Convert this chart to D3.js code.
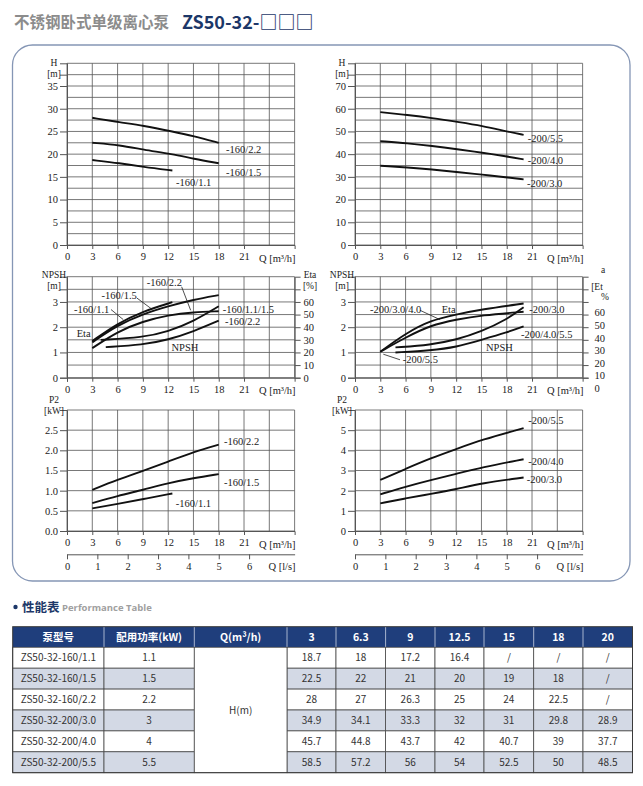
<!DOCTYPE html>
<html>
<head>
<meta charset="utf-8">
<script src="https://cdn.jsdelivr.net/npm/d3@7"></script>
<style>
  body { margin: 0; background: #fff; }
  svg { display: block; }
  .lab { font-family: "Liberation Serif", "DejaVu Serif", serif; font-size: 10.5px; fill: #222; }
  .cell { font-family: "Noto Sans CJK SC", sans-serif; font-size: 10px; fill: #333; }
</style>
</head>
<body>
<svg id="chart" width="643" height="786"></svg>
<script>
'use strict';

// ---- table data (also drives the H curves) ----
const qTable = [3, 6.3, 9, 12.5, 15, 18, 20];
const tableHead = ["泵型号", "配用功率(kW)", "Q(m³/h)"];
const models = ["ZS50-32-160/1.1", "ZS50-32-160/1.5", "ZS50-32-160/2.2",
                "ZS50-32-200/3.0", "ZS50-32-200/4.0", "ZS50-32-200/5.5"];
const motorKw = ["1.1", "1.5", "2.2", "3", "4", "5.5"];
const headRows = [
  [18.7, 18, 17.2, 16.4, null, null, null],
  [22.5, 22, 21, 20, 19, 18, null],
  [28, 27, 26.3, 25, 24, 22.5, null],
  [34.9, 34.1, 33.3, 32, 31, 29.8, 28.9],
  [45.7, 44.8, 43.7, 42, 40.7, 39, 37.7],
  [58.5, 57.2, 56, 54, 52.5, 50, 48.5]
];
const curveNames = ["-160/1.1", "-160/1.5", "-160/2.2", "-200/3.0", "-200/4.0", "-200/5.5"];

// ---- Eta / NPSH curves ----
const etaQ160 = [[3, 6, 9, 12.5], [3, 6, 9, 12, 15, 18], [3, 6, 9, 12, 15, 18]];
const eta160 = [[29, 43, 52.6, 59.8], [28, 41.6, 50.4, 56.6, 61.8, 65.4], [23.4, 36.6, 44.6, 49.6, 52, 52.6]];
const npshQ160 = [[4, 9, 12, 15, 18], [4.6, 9, 12, 15, 18]];
const npsh160 = [[1.5, 1.59, 1.83, 2.23, 2.83], [1.21, 1.3, 1.5, 1.83, 2.26]];

const etaQ200 = [3, 6, 9, 12, 15, 20];
const eta200 = [[29, 43.6, 54.1, 58.6, 62.6, 67.3], [29, 40.4, 50.1, 54.6, 58, 60.7]];
const npshQ200 = [4.8, 9, 12, 15, 18, 20];
const npsh200 = [[1.2, 1.3, 1.5, 1.83, 2.3, 2.79], [1.0, 1.08, 1.21, 1.5, 1.79, 2.03]];

// ---- P2 curves ----
const p2Q160 = [[3, 6, 9, 12.5], [3, 6, 9, 12, 15, 18], [3, 6, 9, 12, 15, 18]];
const p2_160 = [[0.56, 0.67, 0.79, 0.93], [0.69, 0.87, 1.02, 1.19, 1.31, 1.41], [1.02, 1.27, 1.49, 1.72, 1.96, 2.14]];
const p2Q200 = [3, 6, 9, 12, 15, 20];
const p2_200 = [[1.37, 1.62, 1.84, 2.07, 2.37, 2.65], [1.82, 2.2, 2.53, 2.83, 3.15, 3.56], [2.53, 3.08, 3.61, 4.06, 4.52, 5.1]];

const qTicks = [0, 3, 6, 9, 12, 15, 18, 21];
const lsTicks = [0, 1, 2, 3, 4, 5, 6];

const serif = "'Liberation Serif', 'DejaVu Serif', serif";
const svg = d3.select("#chart");

// title
svg.append("text").attr("x", 14).attr("y", 28)
  .style("font-family", "'Noto Sans CJK SC'").style("font-weight", 700)
  .style("font-size", "15.5px").style("fill", "#8c8c8c").text("不锈钢卧式单级离心泵");
svg.append("text").attr("x", 182).attr("y", 29)
  .style("font-family", "'Noto Sans CJK SC'").style("font-weight", 700)
  .style("font-size", "18px").style("fill", "#1c3768").text("ZS50-32-□□□");

// rounded frame round the charts
svg.append("rect").attr("x", 12.5).attr("y", 45).attr("width", 617.5).attr("height", 536)
  .attr("rx", 20).attr("fill", "none").attr("stroke", "#8596b5").attr("stroke-width", 1.3);

const line = d3.line().curve(d3.curveBasis);

function styleAxis(a) {
  a.attr("font-family", null).attr("font-size", null);
  a.select(".domain").attr("stroke", "#555");
  a.selectAll("line").attr("stroke", "#555");
  a.selectAll("text").attr("class", "lab").attr("fill", null).style("font-family", serif);
}

function addLab(g, x, y, t, anchor, size) {
  return g.append("text").attr("class", "lab").attr("x", x).attr("y", y)
    .attr("dy", "0.35em").attr("text-anchor", anchor || "start")
    .style("font-family", serif).style("font-size", (size || 10.5) + "px").text(t);
}

function drawPanel(p) {
  const x = d3.scaleLinear().domain([0, 27]).range([p.left, p.left + 27 * 8.43]);
  const y = d3.scaleLinear().domain([0, p.yMax]).range([p.bottom, p.top]);
  const g = svg.append("g");

  // grid
  g.selectAll(".hg").data(d3.range(0, p.yMax + 1e-9, p.yStep)).enter().append("line")
    .attr("x1", x(0)).attr("x2", x(27)).attr("y1", d => y(d)).attr("y2", d => y(d))
    .attr("stroke", "#555").attr("stroke-width", 0.8);
  g.selectAll(".vg").data(d3.range(0, 28, 3)).enter().append("line")
    .attr("x1", d => x(d)).attr("x2", d => x(d)).attr("y1", y(0)).attr("y2", y(p.yMax))
    .attr("stroke", "#555").attr("stroke-width", 0.8);

  // axes
  styleAxis(g.append("g").attr("transform", "translate(" + x(0) + ",0)")
    .call(d3.axisLeft(y).tickValues(p.yTicks).tickSize(7).tickPadding(2).tickFormat(p.fmt)));
  styleAxis(g.append("g").attr("transform", "translate(0," + y(0) + ")")
    .call(d3.axisBottom(x).tickValues(qTicks).tickSize(4).tickPadding(4)));
  addLab(g, x(27) + 1, y(0) + 13, "Q [m³/h]", "end");

  // y name
  p.yName.forEach(n => addLab(g, x(0) - 13, n[1], n[0], "middle", 9.5));

  // l/s axis
  if (p.ls) {
    const xs = d3.scaleLinear().domain([0, 7.5]).range([x(0), x(27)]);
    styleAxis(g.append("g").attr("transform", "translate(0," + (y(0) + 23.3) + ")")
      .call(d3.axisBottom(xs).tickValues(lsTicks).tickSize(5).tickPadding(3).tickSizeOuter(0)));
    addLab(g, x(27) + 1, y(0) + 35, "Q [l/s]", "end");
  }

  // curves
  (p.curves || []).forEach(c => {
    const sy = c.eta ? p.etaScale : y;
    g.append("path").attr("d", line(c.q.map((q, i) => [x(q), sy(c.v[i])])))
      .attr("fill", "none").attr("stroke", "#111").attr("stroke-width", 1.9);
  });

  // labels and leader lines
  (p.labels || []).forEach(l => addLab(g, x(l[1]), y(l[2]), l[0]));
  (p.leaders || []).forEach(l => {
    g.append("line").attr("x1", x(l[0])).attr("y1", y(l[1])).attr("x2", x(l[2])).attr("y2", y(l[3]))
      .attr("stroke", "#222").attr("stroke-width", 0.8);
  });

  return { x: x, y: y, g: g };
}

// ---- H panels ----
drawPanel({
  left: 67, top: 63.3, bottom: 245, yMax: 40, yStep: 2.5,
  yTicks: [0, 5, 10, 15, 20, 25, 30, 35, 37.5], fmt: d => d === 37.5 ? "" : d,
  yName: [["H", 63], ["[m]", 74]],
  curves: [0, 1, 2].map(i => ({
    q: qTable.filter((q, j) => headRows[i][j] !== null),
    v: headRows[i].filter(v => v !== null)
  })),
  labels: [[curveNames[2], 18.86, 21.1], [curveNames[1], 18.86, 16.1], [curveNames[0], 12.93, 13.7]]
});
drawPanel({
  left: 355, top: 63.3, bottom: 245, yMax: 80, yStep: 5,
  yTicks: [0, 10, 20, 30, 40, 50, 60, 70, 75], fmt: d => d === 75 ? "" : d,
  yName: [["H", 63], ["[m]", 74]],
  curves: [3, 4, 5].map(i => ({ q: qTable, v: headRows[i] })),
  labels: [[curveNames[5], 20.5, 47.1], [curveNames[4], 20.5, 37.4], [curveNames[3], 20.4, 27.3]]
});

// ---- NPSH / Eta panels ----
const etaLeft = d3.scaleLinear().domain([0, 80]).range([377.7, 276.7]);
const pl = drawPanel({
  left: 67, top: 276.7, bottom: 377.7, yMax: 4, yStep: 0.5,
  yTicks: [0, 1, 2, 3, 3.5], fmt: d => d === 3.5 ? "" : d,
  yName: [["NPSH", 275], ["[m]", 286]],
  etaScale: etaLeft,
  curves: eta160.map((v, i) => ({ q: etaQ160[i], v: v, eta: true }))
    .concat(npsh160.map((v, i) => ({ q: npshQ160[i], v: v }))),
  labels: [["-160/2.2", 9.45, 3.78], ["-160/1.5", 4.1, 3.25], ["-160/1.1", 0.83, 2.72],
           ["Eta", 1.15, 1.74], ["NPSH", 12.4, 1.21], ["-160/1.1/1.5", 18.47, 2.72], ["-160/2.2", 18.74, 2.23]],
  leaders: [[13.6, 3.6, 14.67, 2.67], [8.27, 3.16, 10.05, 2.72], [5.22, 2.7, 6.68, 2.3]]
});
styleAxis(pl.g.append("g").attr("transform", "translate(" + pl.x(27) + ",0)")
  .call(d3.axisRight(etaLeft).tickValues(d3.range(0, 71, 10)).tickSize(6).tickPadding(3)
    .tickFormat(d => d === 70 ? "" : d)));
addLab(pl.g, 310, 275, "Eta", "middle", 9.5);
addLab(pl.g, 310, 286, "[%]", "middle", 9.5);

const etaRight = d3.scaleLinear().domain([0, 60]).range([388.3, 312.7]);
const pr = drawPanel({
  left: 355, top: 276.7, bottom: 377.7, yMax: 4, yStep: 0.5,
  yTicks: [0, 1, 2, 3, 3.5], fmt: d => d === 3.5 ? "" : d,
  yName: [["NPSH", 275], ["[m]", 286]],
  etaScale: etaRight,
  curves: eta200.map(v => ({ q: etaQ200, v: v, eta: true }))
    .concat(npsh200.map(v => ({ q: npshQ200, v: v }))),
  labels: [["-200/3.0/4.0", 1.78, 2.72], ["Eta", 10.28, 2.72], ["-200/5.5", 5.66, 0.71],
           ["NPSH", 15.54, 1.21], ["-200/3.0", 20.68, 2.72], ["-200/4.0/5.5", 19.7, 1.7]],
  leaders: [[7.71, 2.67, 10.08, 2.3], [5.34, 0.71, 3.36, 0.93]]
});
styleAxis(pr.g.append("g").attr("transform", "translate(" + pr.x(27) + ",0)")
  .call(d3.axisRight(pr.y).tickValues(d3.range(0, 3.6, 0.5)).tickSize(6).tickFormat("")));
d3.range(0, 61, 10).forEach(d => addLab(pr.g, pr.x(27) + 12, etaRight(d), d));
[["a", 603, 270], ["[Et", 597, 287], ["%", 605, 297]].forEach(t => addLab(pr.g, t[1], t[2], t[0], "middle", 9.5));

// ---- P2 panels ----
drawPanel({
  left: 67, top: 410, bottom: 531, yMax: 3, yStep: 0.5,
  yTicks: [0, 0.5, 1, 1.5, 2, 2.5], fmt: d3.format(".1f"),
  yName: [["P2", 400], ["[kW]", 410.5]],
  ls: true,
  curves: p2_160.map((v, i) => ({ q: p2Q160[i], v: v })),
  labels: [[curveNames[2], 18.62, 2.22], [curveNames[1], 18.62, 1.21], [curveNames[0], 12.9, 0.69]]
});
drawPanel({
  left: 355, top: 410, bottom: 531, yMax: 6, yStep: 1,
  yTicks: [0, 1, 2, 3, 4, 5], fmt: d => d,
  yName: [["P2", 400], ["[kW]", 410.5]],
  ls: true,
  curves: p2_200.map(v => ({ q: p2Q200, v: v })),
  labels: [[curveNames[5], 20.56, 5.47], [curveNames[4], 20.56, 3.45], [curveNames[3], 20.37, 2.54]]
});

// ---- performance table ----
svg.append("circle").attr("cx", 15.5).attr("cy", 607).attr("r", 2.2).attr("fill", "#1c3768");
svg.append("text").attr("x", 22).attr("y", 611.5)
  .style("font-family", "'Noto Sans CJK SC'").style("font-weight", 700)
  .style("font-size", "12.5px").style("fill", "#1c3768").text("性能表");
svg.append("text").attr("x", 62).attr("y", 611)
  .style("font-family", "'Open Sans'").style("font-weight", 700)
  .style("font-size", "9.5px").style("fill", "#a0a0a0").text("Performance Table");

const colX = [12.7, 104, 194.3, 287, 336, 385.6, 435, 484, 533.7, 583, 632.5];
const headTop = 626.7, headH = 20.6, rowH = 20.9;
const rowTop = i => headTop + headH + i * rowH;
const tg = svg.append("g");

// header
tg.append("rect").attr("x", colX[0]).attr("y", headTop).attr("width", colX[10] - colX[0])
  .attr("height", headH).attr("fill", "#1f3e7c");
const headLabels = tableHead.concat(qTable.map(String));
headLabels.forEach((t, j) => {
  tg.append("text").attr("class", "cell").attr("x", (colX[j] + colX[j + 1]) / 2)
    .attr("y", headTop + headH / 2).attr("dy", "0.35em").attr("text-anchor", "middle")
    .style("fill", "#fff").style("font-weight", 700).style("font-size", "10.5px").text(t);
  if (j > 0) {
    tg.append("line").attr("x1", colX[j]).attr("x2", colX[j]).attr("y1", headTop).attr("y2", headTop + headH)
      .attr("stroke", "#c9d2e3").attr("stroke-width", 0.8);
  }
});

// body rows
models.forEach((m, i) => {
  const fill = i % 2 === 1 ? "#d3d9e5" : "#fff";
  [0, 1].concat(d3.range(3, 10)).forEach(j => {
    tg.append("rect").attr("x", colX[j]).attr("y", rowTop(i)).attr("width", colX[j + 1] - colX[j])
      .attr("height", rowH).attr("fill", fill).attr("stroke", "#4a4a4a").attr("stroke-width", 0.8);
  });
  [m, motorKw[i]].forEach((t, j) => {
    tg.append("text").attr("class", "cell").attr("x", (colX[j] + colX[j + 1]) / 2)
      .attr("y", rowTop(i) + rowH / 2).attr("dy", "0.35em").attr("text-anchor", "middle").text(t);
  });
  headRows[i].forEach((v, k) => {
    tg.append("text").attr("class", "cell").attr("x", (colX[k + 3] + colX[k + 4]) / 2)
      .attr("y", rowTop(i) + rowH / 2).attr("dy", "0.35em").attr("text-anchor", "middle")
      .text(v === null ? "/" : v);
  });
});
// merged H(m) cell
tg.append("rect").attr("x", colX[2]).attr("y", rowTop(0)).attr("width", colX[3] - colX[2])
  .attr("height", rowH * 6).attr("fill", "#fff").attr("stroke", "#4a4a4a").attr("stroke-width", 0.8);
tg.append("text").attr("class", "cell").attr("x", (colX[2] + colX[3]) / 2)
  .attr("y", rowTop(0) + rowH * 3).attr("dy", "0.35em").attr("text-anchor", "middle").text("H(m)");
tg.append("rect").attr("x", colX[0]).attr("y", headTop).attr("width", colX[10] - colX[0])
  .attr("height", headH + rowH * 6).attr("fill", "none").attr("stroke", "#3a3a3a").attr("stroke-width", 1);
</script>
</body>
</html>
